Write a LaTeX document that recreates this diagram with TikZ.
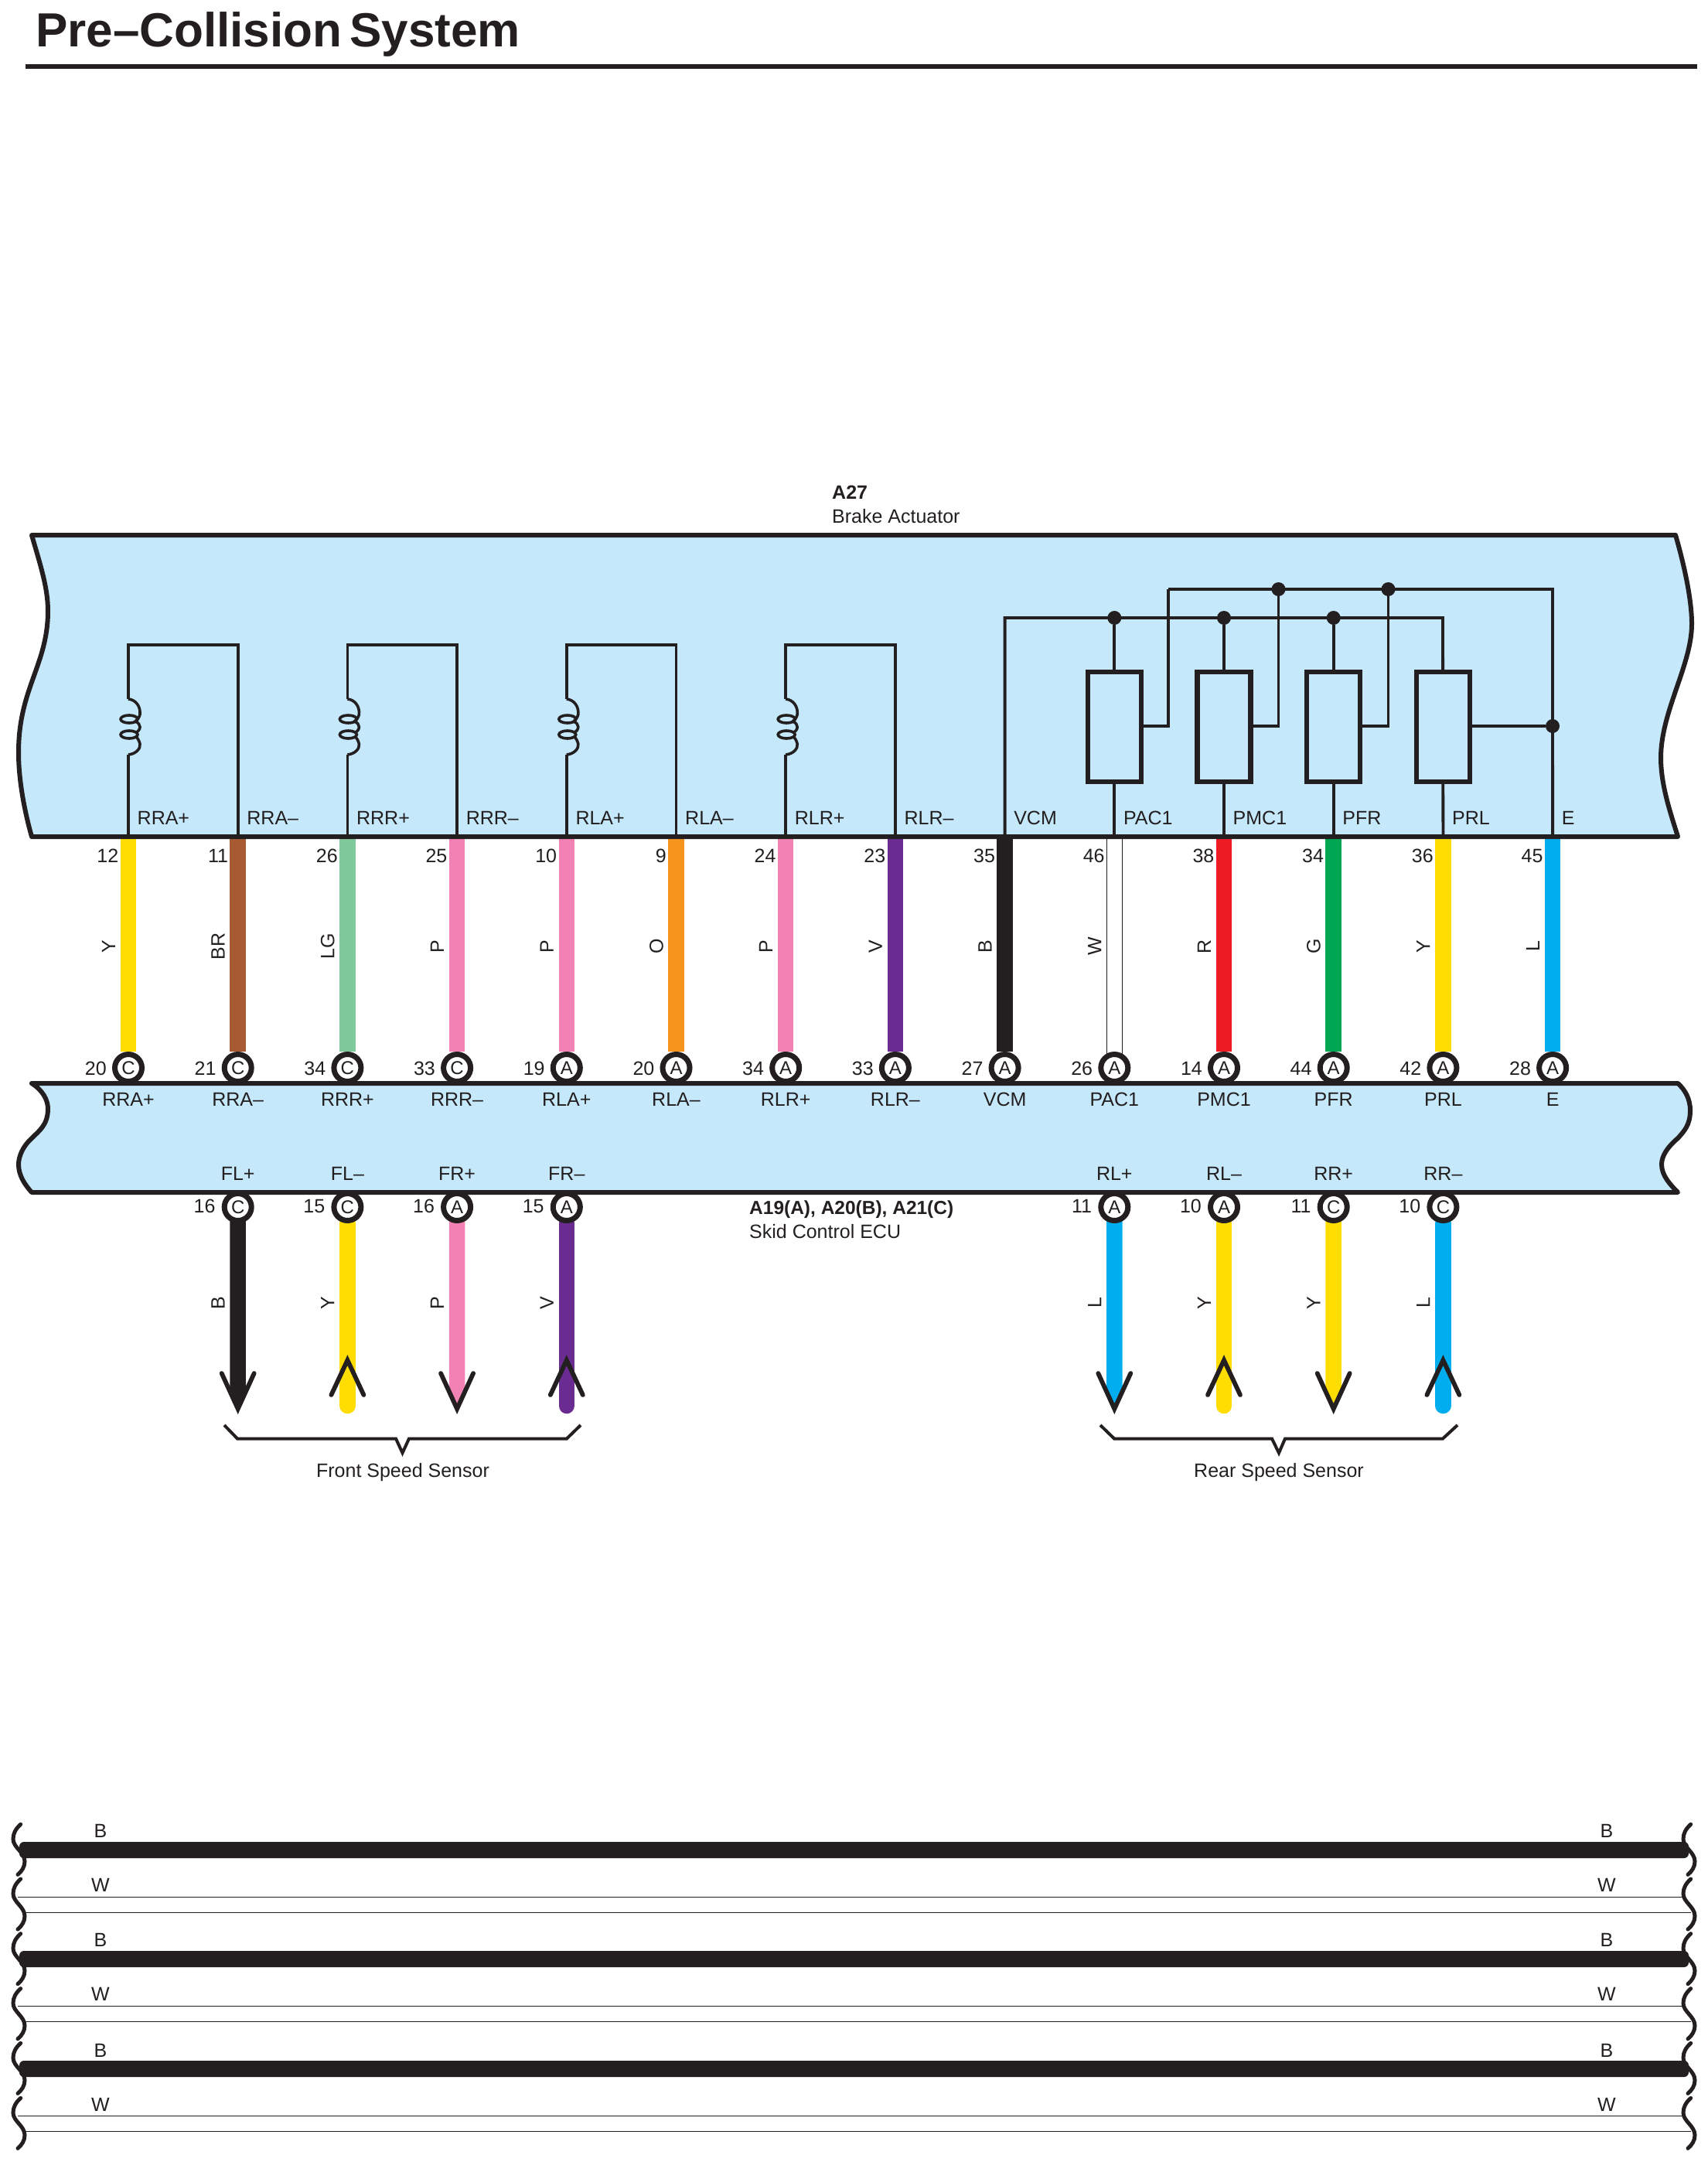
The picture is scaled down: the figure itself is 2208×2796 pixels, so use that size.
\documentclass[tikz,border=0pt]{standalone}
\usepackage{fontspec}
\setmainfont{Liberation Sans}
\usetikzlibrary{backgrounds}
\definecolor{ink}{HTML}{231F20}
\definecolor{panel}{HTML}{C6E8FB}
\definecolor{wY}{HTML}{FFDD00}
\definecolor{wBR}{HTML}{A85A33}
\definecolor{wLG}{HTML}{80C99B}
\definecolor{wP}{HTML}{F282B4}
\definecolor{wO}{HTML}{F7941D}
\definecolor{wV}{HTML}{6B2C91}
\definecolor{wB}{HTML}{231F20}
\definecolor{wR}{HTML}{ED1C24}
\definecolor{wG}{HTML}{00A651}
\definecolor{wL}{HTML}{00AEEF}
\definecolor{wW}{HTML}{FFFFFF}
\tikzset{
  x=1pt,y=-1pt,
  band/.style={draw=ink,fill=panel,line width=6pt,line join=round},
  inwire/.style={draw=ink,line width=3.8pt,line join=miter},
  resbox/.style={draw=ink,line width=6.5pt,fill=panel,rectangle,minimum width=69pt,minimum height=142pt,inner sep=0pt},
  junction/.style={circle,fill=ink,inner sep=0pt,minimum size=18pt},
  conn/.style={circle,draw=ink,line width=7pt,fill=white,minimum size=35pt,inner sep=0pt,font=\fontsize{24}{28}\selectfont,text=ink},
  lab/.style={inner sep=0pt,text=ink,font=\fontsize{25}{30}\selectfont,text height=18pt,text depth=0pt},
  fatwire/.style={line width=20.5pt},
  barb/.style={draw=ink,line width=5.8pt,line join=miter,line cap=round},
  squig/.style={draw=ink,line width=5pt,line cap=round},
  thin wire/.style={draw=ink,line width=1.1pt},
  brace line/.style={draw=ink,line width=4pt,line join=miter},
  coilline/.style={draw=ink,line width=3.6pt}
}
\begin{document}
\begin{tikzpicture}
\useasboundingbox (0,0) rectangle (2208,2796);
% title
\node[anchor=base west,inner sep=0pt,text=ink,font=\fontsize{62}{70}\selectfont\bfseries] (title) at (46,61) {Pre–Collision\hspace{-.12em} System};
\coordinate (ruleL) at (33,86);
\coordinate (ruleR) at (2195,86);
\draw[draw=ink,line width=6pt] (ruleL) -- (ruleR);
% captions
\node[lab,anchor=west,font=\fontsize{25}{30}\selectfont\bfseries] (a27) at (1076,636) {A27};
\node[lab,anchor=west] (brake) at (1076,667) {Brake Actuator};
\node[lab,anchor=west,font=\fontsize{24.5}{30}\selectfont\bfseries] (ecu1) at (969,1561) {A19(A), A20(B), A21(C)};
\node[lab,anchor=west] (ecu2) at (969,1592) {Skid Control ECU};
% bands
\draw[band] (41,692) -- (2167,692)
  .. controls (2178,730) and (2188,775) .. (2188,807)
  .. controls (2188,860) and (2148,920) .. (2148,980)
  .. controls (2148,1015) and (2160,1050) .. (2170,1082)
  -- (41,1082)
  .. controls (32,1050) and (24,1010) .. (24,973)
  .. controls (24,890) and (62,860) .. (62,790)
  .. controls (62,760) and (52,730) .. cycle;
\draw[band] (41,1401) -- (2170,1401)
  .. controls (2180,1410) and (2186,1422) .. (2186,1436)
  .. controls (2186,1455) and (2178,1463) .. (2170,1472)
  .. controls (2156,1484) and (2149,1495) .. (2149,1506)
  .. controls (2149,1520) and (2160,1532) .. (2170,1542)
  -- (41,1542)
  .. controls (32,1532) and (24,1520) .. (24,1506)
  .. controls (24,1495) and (30,1482) .. (41,1472)
  .. controls (50,1463) and (62,1455) .. (62,1434)
  .. controls (62,1422) and (55,1410) .. cycle;
% pins
\foreach \i/\pinno/\wc/\wl/\cno/\cl/\sig in {
 0/12/wY/Y/20/C/RRA+, 1/11/wBR/BR/21/C/RRA–, 2/26/wLG/LG/34/C/RRR+, 3/25/wP/P/33/C/RRR–,
 4/10/wP/P/19/A/RLA+, 5/9/wO/O/20/A/RLA–, 6/24/wP/P/34/A/RLR+, 7/23/wV/V/33/A/RLR–,
 8/35/wB/B/27/A/VCM, 9/46/wW/W/26/A/PAC1, 10/38/wR/R/14/A/PMC1, 11/34/wG/G/44/A/PFR,
 12/36/wY/Y/42/A/PRL, 13/45/wL/L/28/A/E}{
  \pgfmathsetmacro\xx{166+141.7*\i}
  \coordinate (t\i) at (\xx,1082);
  \node[conn] (c\i) at (\xx,1381) {\cl};
  \node[lab,anchor=east] (n\i) at (\xx-12.5,1106) {\pinno};
  \node[lab,anchor=east] (m\i) at (\xx-28,1381) {\cno};
  \node[lab,anchor=west] (s\i) at (\xx+11.5,1057) {\sig};
  \node[lab] (e\i) at (\xx,1421.5) {\sig};
  \node[lab,rotate=90] (k\i) at (\xx-26,1224) {\wl};
}
\begin{pgfonlayer}{background}
\foreach \i/\wc in {0/wY,1/wBR,2/wLG,3/wP,4/wP,5/wO,6/wP,7/wV,8/wB,10/wR,11/wG,12/wY,13/wL}{
  \draw[fatwire,draw=\wc] (t\i) -- (c\i);
}
\draw[thin wire] ([xshift=-10pt]t9) -- ([xshift=-10pt]c9.center);
\draw[thin wire] ([xshift=10pt]t9) -- ([xshift=10pt]c9.center);
\end{pgfonlayer}
% solenoids
\foreach \i [evaluate=\i as \j using int(\i+1)] in {0,2,4,6}{
  \pgfmathsetmacro\xx{166+141.7*\i}
  \coordinate (top\i) at (\xx,834);
  \coordinate (top\j) at (\xx+141.7,834);
  \coordinate (coilA\i) at (\xx,904);
  \coordinate (coilB\i) at (\xx,976);
  \draw[inwire] (t\i) -- (coilB\i);
  \draw[inwire] (coilA\i) -- (top\i) -- (top\j) -- (t\j);
  \begin{scope}[shift={(\xx,0)}]
    \draw[coilline] (0,904) .. controls (10,905) and (16,914) .. (15,924) .. controls (14,928) and (12,931) .. (9,933);
    \draw[coilline] (9,933) .. controls (17,936) and (17,944) .. (9,948);
    \draw[coilline] (9,952) .. controls (12,954) and (14,958) .. (15,962) .. controls (16,968) and (10,975) .. (0,976);
    \draw[coilline] (1,930) ellipse [x radius=11,y radius=5];
    \draw[coilline] (1,950) ellipse [x radius=11,y radius=5];
  \end{scope}
}
% sensors block
\coordinate (vcmTop) at (1299.6,799);
\coordinate (busA) at (1866,799);
\coordinate (busBL) at (1511,762);
\coordinate (busBR) at (2008,762);
\draw[inwire] (t8) -- (vcmTop) -- (busA) -- (t12);
\draw[inwire] (t13) -- (busBR) -- (busBL);
\foreach \i/\st in {9/1511,10/1653.5,11/1795.5,12/2008}{
  \pgfmathsetmacro\xx{166+141.7*\i}
  \ifnum\i<12\relax
    \node[junction] (ja\i) at (\xx,799) {};
    \draw[inwire] (ja\i) -- (t\i);
  \fi
  \node[resbox] (res\i) at (\xx,940) {};
  \coordinate (st\i) at (\st,939);
  \coordinate (stt\i) at (\st,762);
  \ifnum\i<12\relax
    \draw[inwire] (res\i.east |- st\i) -- (st\i) -- (stt\i);
  \else
    \node[junction] (je) at (st\i) {};
    \draw[inwire] (res\i.east |- st\i) -- (je);
  \fi
}
\node[junction] (jb1) at (stt10) {};
\node[junction] (jb2) at (stt11) {};
% lower pins
\foreach \i/\xi/\cno/\cl/\sig/\wc/\wl/\dirn in {
 0/1/16/C/FL+/wB/B/d, 1/2/15/C/FL–/wY/Y/u, 2/3/16/A/FR+/wP/P/d, 3/4/15/A/FR–/wV/V/u,
 4/9/11/A/RL+/wL/L/d, 5/10/10/A/RL–/wY/Y/u, 6/11/11/C/RR+/wY/Y/d, 7/12/10/C/RR–/wL/L/u}{
  \pgfmathsetmacro\xx{166+141.7*\xi}
  \node[conn] (b\i) at (\xx,1561) {\cl};
  \node[lab,anchor=east] (bm\i) at (\xx-29,1559) {\cno};
  \node[lab] (bs\i) at (\xx,1517) {\sig};
  \node[lab,rotate=90] (bk\i) at (\xx-26,1685) {\wl};
  \if\dirn d
    \coordinate (tip\i) at (\xx,1822);
    \begin{pgfonlayer}{background}
      \fill[\wc] ([xshift=-10.25pt]b\i.center) -- ([xshift=10.25pt]b\i.center) -- (\xx+10.25,1800) -- (\xx,1826) -- (\xx-10.25,1800) -- cycle;
    \end{pgfonlayer}
    \draw[barb] (\xx-21,1776) -- (tip\i) -- (\xx+21,1776);
  \else
    \coordinate (tip\i) at (\xx,1818);
    \begin{pgfonlayer}{background}
      \draw[fatwire,draw=\wc,line cap=round] (b\i) -- (tip\i);
    \end{pgfonlayer}
    \draw[barb] (\xx-21,1804) -- (\xx,1759) -- (\xx+21,1804);
  \fi
}
% braces
\draw[brace line] (290,1843) -- (307,1860.5) -- (512,1860.5) -- (520.5,1879) -- (529,1860.5) -- (733,1860.5) -- (751,1843);
\node[lab] (front) at (521,1901) {Front Speed Sensor};
\draw[brace line] (1423,1843) -- (1441,1860.5) -- (1645,1860.5) -- (1654,1879) -- (1662,1860.5) -- (1866,1860.5) -- (1885,1843);
\node[lab] (rear) at (1654,1901) {Rear Speed Sensor};
% bottom harness
\foreach \r/\yb/\yt/\yw/\ya/\yc in {0/2392.5/2367/2437/2453.3/2473.3, 1/2533.5/2508/2578/2594.3/2614.3, 2/2675.5/2651/2721/2736.3/2756.3}{
  \coordinate (bl\r) at (25,\yb-10.5);
  \coordinate (br\r) at (2184,\yb+10.5);
  \fill[ink,rounded corners=6pt] (bl\r) rectangle (br\r);
  \coordinate (wa\r) at (23,\ya);
  \coordinate (wb\r) at (2178,\ya);
  \coordinate (wc\r) at (32,\yc);
  \coordinate (wd\r) at (2187,\yc);
  \draw[thin wire] (wa\r) -- (wb\r);
  \draw[thin wire] (wc\r) -- (wd\r);
  \node[lab] (lb\r) at (130,\yt) {B};
  \node[lab] (rb\r) at (2078,\yt) {B};
  \node[lab] (lw\r) at (130,\yw) {W};
  \node[lab] (rw\r) at (2078,\yw) {W};
}
\foreach \yy in {2359.3,2430,2500.7,2571.7,2642.3,2713.3}{
  \foreach \xo in {0,2160}{
    \begin{scope}[shift={(\xo,\yy)}]
      \draw[squig] (26.7,0) .. controls (20,6) and (17,12) .. (17,19) .. controls (17,30) and (32,36) .. (32,48) .. controls (32,55) and (28,61) .. (23,65);
    \end{scope}
  }
}
\end{tikzpicture}
\end{document}
